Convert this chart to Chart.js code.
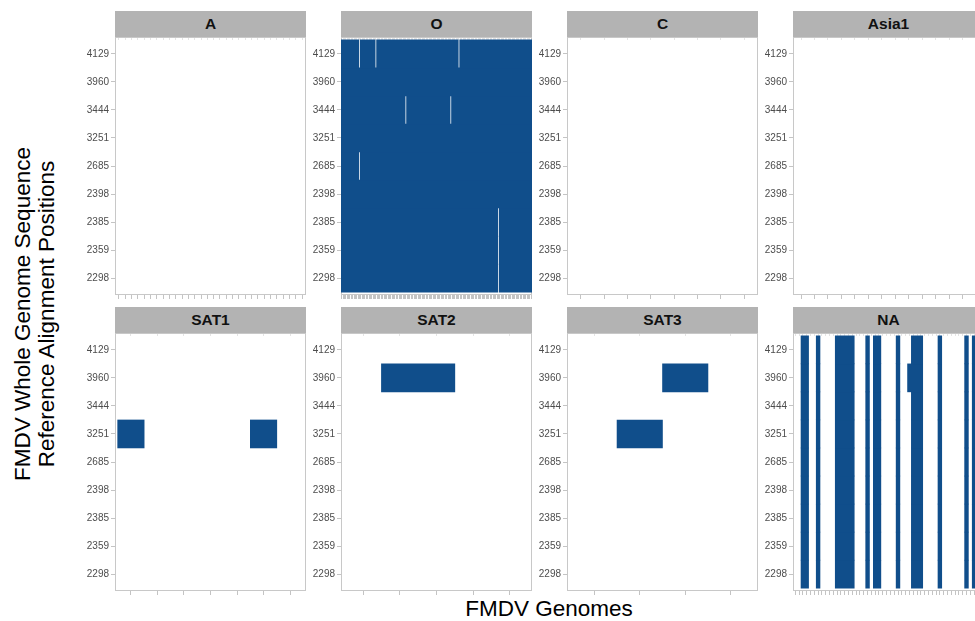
<!DOCTYPE html>
<html>
<head>
<meta charset="utf-8">
<title>FMDV genome coverage by serotype</title>
<script src="https://cdn.jsdelivr.net/npm/chart.js@4.4.1/dist/chart.umd.min.js"></script>
<style>
    html, body { margin: 0; padding: 0; background: #fff; overflow: hidden; }
    #figure { position: relative; width: 1000px; height: 621px; font-family: 'Liberation Sans', Arial, sans-serif; }
    #figure canvas { position: absolute; }
    .strip {
        position: absolute; height: 26px; line-height: 26px; background: #b3b3b3;
        text-align: center; font-weight: bold; font-size: 15.5px; color: #111;
    }
    .axis-title { position: absolute; text-align: center; font-size: 22.5px; color: #000; white-space: nowrap; }
</style>
</head>
<body>
<div id="figure">
    <div class="axis-title" style="left: 349px; top: 598px; width: 400px; line-height: 22.5px;">FMDV Genomes</div>
    <div class="axis-title" style="left: -165px; top: 290px; width: 400px; height: 48px; line-height: 24px; transform: rotate(-90deg);">FMDV Whole Genome Sequence<br>Reference Alignment Positions</div>
</div>
<script>
// Reference alignment positions, bottom row of each panel first
const positions = ['2298', '2359', '2385', '2398', '2685', '3251', '3444', '3960', '4129'];

const serotypes = ['A', 'O', 'C', 'Asia1', 'SAT1', 'SAT2', 'SAT3', 'NA'];
const genomeCounts = [30, 140, 8, 14, 7, 5, 4, 50];

// [position, genome number] cells that carry a tile
const tilesA = [];
const tilesC = [];
const tilesAsia1 = [];
const tilesSAT1 = [['3251', 1], ['3251', 6]];
const tilesSAT2 = [['3960', 2], ['3960', 3]];
const tilesSAT3 = [['3251', 2], ['3960', 3]];

// O is covered nearly everywhere, these cells are the holes
const holesO = [
    ['4129', 14], ['4129', 26], ['4129', 87],
    ['3444', 48], ['3444', 81],
    ['2685', 14],
    ['2385', 116], ['2359', 116], ['2298', 116],
];

// NA genomes covered at every position, plus one covered at a single position
const columnsNA = [3, 4, 7, 12, 13, 14, 15, 16, 20, 22, 23, 28, 32, 33, 34, 39, 46, 48];
const tilesNAextra = [['3960', 31]];

const tileColor = '#104E8B';
const tickColor = '#c4c4c4';
const frameColor = '#c8c8c8';

const everyCell = (count) => positions.flatMap((pos) => Array.from({ length: count }, (_, i) => [pos, i + 1]));
const tilesO = everyCell(genomeCounts[1])
    .filter(([pos, g]) => !holesO.some(([hp, hg]) => hp === pos && hg === g));
const tilesNA = columnsNA.flatMap((g) => positions.map((pos) => [pos, g])).concat(tilesNAextra);

const panelTiles = [tilesA, tilesO, tilesC, tilesAsia1, tilesSAT1, tilesSAT2, tilesSAT3, tilesNA];

// merge neighbouring genomes of one row into a single floating bar
const toBars = (tiles) => {
    const bars = [];
    positions.forEach((pos, row) => {
        const genomes = tiles.filter((t) => t[0] === pos).map((t) => t[1]).sort((a, b) => a - b);
        let i = 0;
        while (i < genomes.length) {
            let j = i;
            while (j + 1 < genomes.length && genomes[j + 1] === genomes[j] + 1) j++;
            bars.push({ y: row + 1, x: [genomes[i] - 0.5, genomes[j] + 0.5] });
            i = j + 1;
        }
    });
    return bars;
};

const integerTicks = (count) => Array.from({ length: count }, (_, i) => ({ value: i + 1 }));

const panelFrame = {
    id: 'panelFrame',
    beforeDatasetsDraw(chart) {
        const { ctx, chartArea: { left, top, right, bottom } } = chart;
        ctx.save();
        ctx.strokeStyle = frameColor;
        ctx.lineWidth = 1;
        ctx.strokeRect(left + 0.5, top + 0.5, right - left - 1, bottom - top - 1);
        ctx.restore();
    },
};

Chart.defaults.font.family = "'Liberation Sans', Arial, sans-serif";

const figure = document.getElementById('figure');
const panelWidth = 191;
const panelHeight = 258;
const yAxisWidth = 35;
const xAxisHeight = 6;
const panelTops = [37, 333];

serotypes.forEach((name, index) => {
    const col = index % 4;
    const row = Math.floor(index / 4);
    const panelLeft = 115 + col * 226;
    const panelTop = panelTops[row];
    const count = genomeCounts[index];

    const canvas = document.createElement('canvas');
    canvas.width = yAxisWidth + panelWidth;
    canvas.height = panelHeight + xAxisHeight;
    canvas.style.left = `${panelLeft - yAxisWidth}px`;
    canvas.style.top = `${panelTop}px`;
    figure.appendChild(canvas);

    const strip = document.createElement('div');
    strip.className = 'strip';
    strip.textContent = name;
    strip.style.left = `${panelLeft}px`;
    strip.style.top = `${panelTop - 26}px`;
    strip.style.width = `${panelWidth}px`;
    figure.appendChild(strip);

    // eslint-disable-next-line no-new
    new Chart(canvas, {
        type: 'bar',
        data: {
            datasets: [{
                data: toBars(panelTiles[index]),
                xAxisID: 'x',
                yAxisID: 'y',
                backgroundColor: tileColor,
                borderWidth: 0,
                inflateAmount: 0.3,
                categoryPercentage: 1,
                barPercentage: 1,
            }],
        },
        options: {
            indexAxis: 'y',
            responsive: false,
            animation: false,
            devicePixelRatio: 1,
            events: [],
            layout: { padding: 0 },
            plugins: {
                legend: { display: false },
                tooltip: { enabled: false },
            },
            scales: {
                x: {
                    type: 'linear',
                    position: 'bottom',
                    offset: false,
                    min: 0.4,
                    max: count + 0.6,
                    afterBuildTicks: (scale) => { scale.ticks = integerTicks(count); },
                    afterFit: (scale) => { scale.height = xAxisHeight; },
                    ticks: { display: false },
                    grid: { offset: false, drawOnChartArea: false, tickLength: 4, color: tickColor },
                    border: { display: false },
                },
                xTop: {
                    type: 'linear',
                    position: 'top',
                    offset: false,
                    min: 0.4,
                    max: count + 0.6,
                    afterBuildTicks: (scale) => { scale.ticks = integerTicks(count); },
                    afterFit: (scale) => { scale.height = 0; },
                    ticks: { display: false },
                    grid: { offset: false, drawOnChartArea: false, tickLength: -3, color: '#e4e4e4' },
                    border: { display: false },
                },
                y: {
                    type: 'linear',
                    position: 'left',
                    offset: false,
                    min: 0.4,
                    max: positions.length + 0.6,
                    afterBuildTicks: (scale) => { scale.ticks = integerTicks(positions.length); },
                    afterFit: (scale) => {
                        scale.width = yAxisWidth;
                        scale.paddingTop = 0;
                        scale.paddingBottom = 0;
                    },
                    ticks: {
                        callback: (value) => positions[Math.round(value) - 1],
                        color: '#4d4d4d',
                        font: { size: 10 },
                        padding: 2,
                        autoSkip: false,
                    },
                    grid: { offset: false, drawOnChartArea: false, tickLength: 4, color: tickColor },
                    border: { display: false },
                },
            },
        },
        plugins: [panelFrame],
    });
});
</script>
</body>
</html>
